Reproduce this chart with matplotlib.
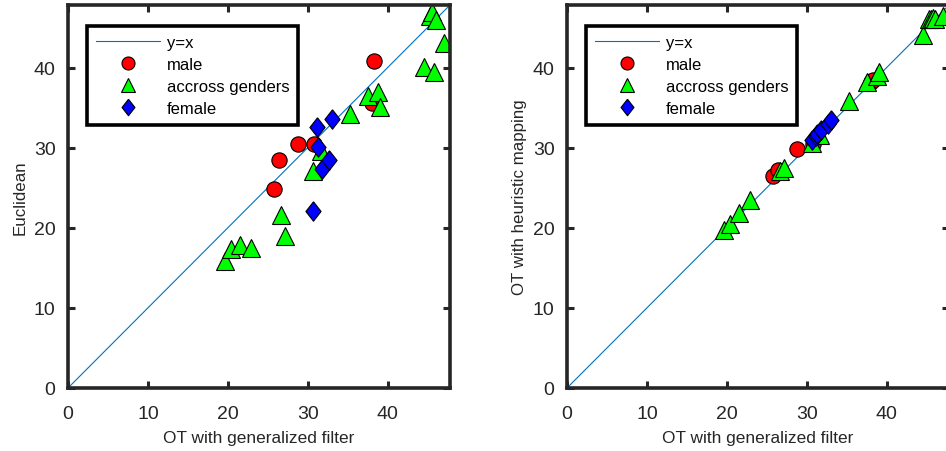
import matplotlib
matplotlib.use("Agg")
import matplotlib.pyplot as plt

plt.rcParams["font.family"] = ["Liberation Sans", "DejaVu Sans"]

# male speakers: x = OT with generalized filter
male_x = [25.8, 26.4, 28.8, 30.8, 38.0, 38.3]
male_euclid = [24.8, 28.4, 30.5, 30.5, 35.6, 40.8]
male_heur = [26.4, 27.2, 29.8, 30.4, 38.2, 38.5]

# across genders
across_x = [19.7, 20.4, 21.5, 22.9, 26.7, 27.2, 30.6, 31.7, 35.3, 37.5,
            38.8, 39.0, 44.6, 45.3, 45.5, 45.8, 46.0, 47.0]
across_euclid = [15.9, 17.4, 17.9, 17.5, 21.6, 19.0, 27.1, 29.6, 34.2, 36.4,
                 36.9, 35.1, 40.1, 46.4, 46.9, 39.5, 45.9, 43.1]
across_heur = [19.7, 20.5, 21.9, 23.5, 27.1, 27.5, 30.6, 31.6, 35.8, 38.2,
               38.9, 39.5, 44.1, 46.0, 46.1, 46.2, 46.0, 46.4]

# female speakers
female_x = [30.6, 31.1, 31.3, 31.8, 32.7, 33.0]
female_euclid = [22.1, 32.6, 30.1, 27.3, 28.4, 33.6]
female_heur = [31.0, 31.5, 31.7, 32.2, 33.0, 33.4]

ylabels = ["Euclidean", "OT with heuristic mapping"]
ydata = [(male_euclid, across_euclid, female_euclid),
         (male_heur, across_heur, female_heur)]

lim = 47.8
diamond = [(0, 1), (0.78, 0), (0, -1), (-0.78, 0), (0, 1)]
dark = "#262626"

fig = plt.figure(figsize=(9.46, 4.52), dpi=100)
lefts = [0.0719, 0.5994]

for left, ylab, (ym, ya, yf) in zip(lefts, ylabels, ydata):
    ax = fig.add_axes([left, 0.1394, 0.4038, 0.8473])
    ax.plot([0, lim], [0, lim], color="#0072BD", lw=0.8, label="y=x")
    ax.plot(male_x, ym, "o", ms=11, mfc="red", mec="black", mew=0.8,
            label="male")
    ax.plot(across_x, ya, "^", ms=12.5, mfc="#00FF00", mec="black", mew=0.8,
            label="accross genders")
    ax.plot(female_x, yf, marker=diamond, ls="none", ms=14, mfc="blue",
            mec="black", mew=0.8, label="female")
    ax.set_xlim(0, lim)
    ax.set_ylim(0, lim)
    ax.set_xticks([0, 10, 20, 30, 40])
    ax.set_yticks([0, 10, 20, 30, 40])
    ax.tick_params(direction="in", length=5, width=2.2, top=True, right=True,
                   labelsize=14, colors=dark)
    ax.tick_params(axis="x", pad=12)
    ax.tick_params(axis="y", pad=9)
    for s in ax.spines.values():
        s.set_linewidth(2.6)
        s.set_color(dark)
    ax.set_xlabel("OT with generalized filter", fontsize=12.4, color=dark,
                  labelpad=6)
    ax.set_ylabel(ylab, fontsize=12.2, color=dark, labelpad=4)
    leg = ax.legend(loc="upper left", bbox_to_anchor=(0.05, 0.945),
                    borderaxespad=0, fontsize=12, fancybox=False,
                    framealpha=1, edgecolor="black", handlelength=3.8,
                    handletextpad=0.42, labelspacing=0.42, borderpad=0.55,
                    markerscale=0.85)
    leg.get_frame().set_linewidth(2.6)

fig.savefig("out.png", dpi=100)
